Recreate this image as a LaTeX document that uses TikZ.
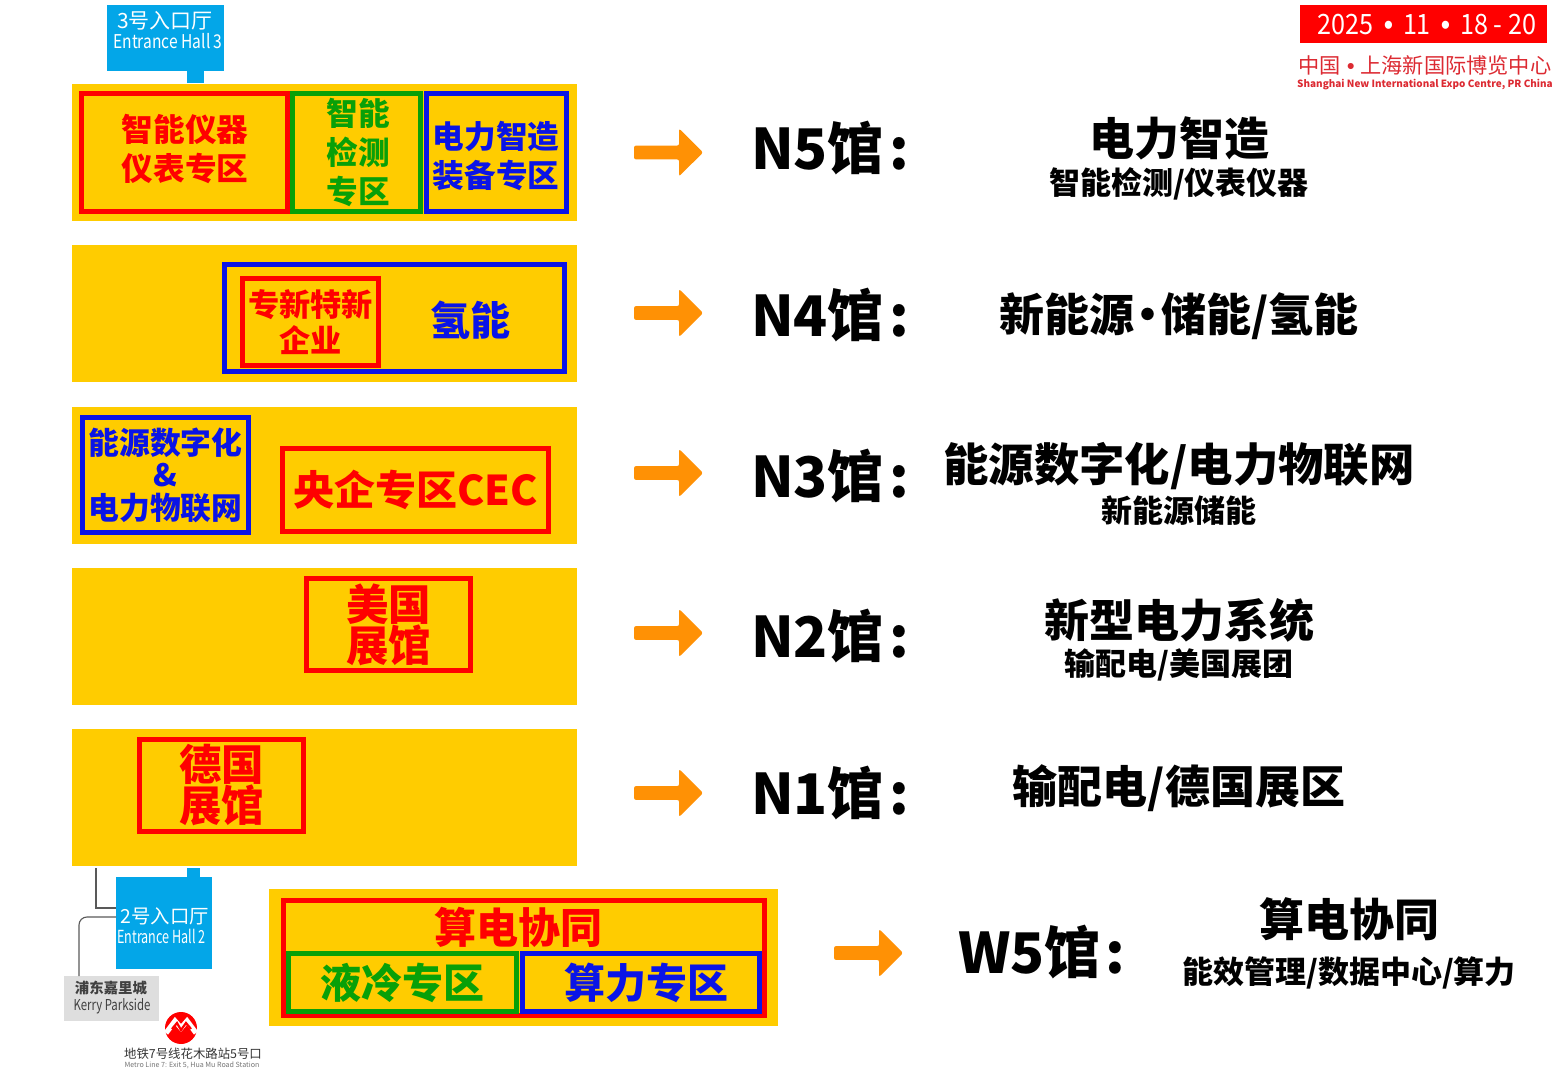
\documentclass[tikz,border=0pt]{standalone}
\usepackage{fontspec}
\usepackage{graphicx}
\setmainfont{Noto Sans CJK SC}
\newfontfamily\arialfont{Liberation Sans}
\usetikzlibrary{shapes.arrows}
\definecolor{hallyellow}{HTML}{FFCC00}
\definecolor{zonegreen}{HTML}{08A008}
\definecolor{zoneblue}{HTML}{0A14E6}
\definecolor{hallorange}{HTML}{FF9105}
\definecolor{entryblue}{HTML}{03A6E8}
\definecolor{expored}{HTML}{DC2A32}
\newcommand{\fs}[2]{\fontsize{#1}{#2}\selectfont\bfseries}
\newcommand{\fn}[2]{\fontsize{#1}{#2}\selectfont}

\begin{document}
\begin{tikzpicture}[x=0.5pt,y=-0.5pt,every node/.style={inner sep=0pt, outer sep=0pt, align=center},
  hall/.style={fill=hallyellow, minimum width=252.5pt, minimum height=68.5pt},
  zone/.style={draw=#1, text=#1, line width=2.4pt},
  hallarrow/.style={single arrow, fill=hallorange, anchor=tail, minimum height=34.5pt, minimum width=23.5pt,
    single arrow head extend=8.5pt, single arrow head indent=0pt, rounded corners=1pt,
    execute at begin node=\rule{0pt}{6.5pt}},
  hallname/.style={anchor=west, font=\fs{28}{32}},
  mainline/.style={font=\fs{22.5}{26}},
  subline/.style={font=\fs{15.5}{20}},
  entry/.style={fill=entryblue, text=white},
  guide/.style={draw=black!65, line width=0.55pt}]
\useasboundingbox (0,0) rectangle (1560,1080);

\node[hall] (hallN5) at (324.5,152.5) {};
\node[hall] (hallN4) at (324.5,313.5) {};
\node[hall] (hallN3) at (324.5,475.5) {};
\node[hall] (hallN2) at (324.5,636.5) {};
\node[hall] (hallN1) at (324.5,797.5) {};
\node[hall, minimum width=254.5pt] (hallW5) at (523.5,957.5) {};

\node[zone=red, minimum width=103pt, minimum height=59pt] (instrBox) at (184.5,152.5) {};
\node[text=red, font=\fs{15.8}{19.5}] (instrText) at (185,149) {智能仪器\\仪表专区};
\node[zone=zonegreen, minimum width=64pt, minimum height=59pt] (detectBox) at (356.5,152.5) {};
\node[text=zonegreen, font=\fs{15.8}{19.3}] (detectText) at (358,152.5) {智能\\检测\\专区};
\node[zone=zoneblue, minimum width=70pt, minimum height=59pt] (powerBox) at (496.5,152.5) {};
\node[text=zoneblue, font=\fs{15.8}{19.5}] (powerText) at (496,156.5) {电力智造\\装备专区};

\node[zone=zoneblue, minimum width=170pt, minimum height=53.5pt] (hydroBox) at (394.5,318) {};
\node[zone=red, minimum width=68pt, minimum height=43.5pt, font=\fs{15.6}{17.8}] (smeBox) at (310.5,322) {专新特新\\企业};
\node[text=zoneblue, font=\fs{20}{24}] (hydroText) at (470,320) {氢能};

\node[zone=zoneblue, minimum width=83pt, minimum height=57.5pt, font=\fs{15.4}{16.2}] (digitBox) at (165.5,475) {能源数字化\\\&\\电力物联网};
\node[zone=red, minimum width=133pt, minimum height=41.5pt, font=\fs{20.5}{24}] (cecBox) at (415.5,490) {央企专区CEC};

\node[zone=red, minimum width=82pt, minimum height=46pt, font=\fs{21.2}{20.5}] (usaBox) at (388.5,624.5) {美国\\展馆};
\node[zone=red, minimum width=82pt, minimum height=46pt, font=\fs{21.2}{20.5}] (gerBox) at (221.5,785.5) {德国\\展馆};

\node[zone=red, minimum width=240.5pt, minimum height=57.5pt] (calcBox) at (524,958) {};
\node[text=red, font=\fs{21}{24}] (calcText) at (518,927) {算电协同};
\node[zone=zonegreen, minimum width=114pt, minimum height=29pt, font=\fs{20.5}{24}] (coolBox) at (402.5,982.5) {液冷专区};
\node[zone=zoneblue, minimum width=118.5pt, minimum height=29pt] (cpuBox) at (641,982.5) {};
\node[text=zoneblue, font=\fs{20.5}{24}] (cpuText) at (646,982.5) {算力专区};

\node[hallarrow] (arrowN5) at (634,152.5) {};
\node[hallarrow] (arrowN4) at (634,313) {};
\node[hallarrow] (arrowN3) at (634,473) {};
\node[hallarrow] (arrowN2) at (634,633) {};
\node[hallarrow] (arrowN1) at (634,793) {};
\node[hallarrow] (arrowW5) at (834,953) {};

\node[hallname] (nameN5) at (751,148) {N5馆\kern2.6pt:};
\node[hallname] (nameN4) at (751,315) {N4馆\kern2.6pt:};
\node[hallname] (nameN3) at (751,476) {N3馆\kern2.6pt:};
\node[hallname] (nameN2) at (751,636) {N2馆\kern2.6pt:};
\node[hallname] (nameN1) at (751,793) {N1馆\kern2.6pt:};
\node[hallname] (nameW5) at (958,952) {W5馆\kern2.6pt:};

\node[mainline] (mainN5) at (1179,138) {电力智造};
\node[subline] (subN5) at (1179,184) {智能检测/仪表仪器};
\node[mainline] (mainN4) at (1179,316) {新能源\kern-4.5pt·\kern-4.5pt储能/氢能};
\node[mainline, font=\fs{22.7}{26}] (mainN3) at (1179,466) {能源数字化/电力物联网};
\node[subline] (subN3) at (1179,511) {新能源储能};
\node[mainline] (mainN2) at (1179,620) {新型电力系统};
\node[subline] (subN2) at (1179,665) {输配电/美国展团};
\node[mainline] (mainN1) at (1179,788) {输配电/德国展区};
\node[mainline] (mainW5) at (1349,919) {算电协同};
\node[subline] (subW5) at (1349,973) {能效管理/数据中心/算力};

% entrances
\node[entry, minimum width=58.5pt, minimum height=33pt] (entry3) at (165.5,38) {};
\node[fill=entryblue, minimum width=8.5pt, minimum height=6pt] (stub3) at (195.5,77) {};
\node[text=white, font=\fn{10.5}{12}] (entry3Cn) at (165,21) {3号入口厅};
\node[text=white, font=\fn{9.5}{11}] (entry3En) at (168,41) {\scalebox{.82}[1]{Entrance Hall 3}};
\node[entry, minimum width=48pt, minimum height=46pt] (entry2) at (164,923) {};
\node[fill=entryblue, minimum width=6.5pt, minimum height=5pt] (stub2) at (193.5,873) {};
\node[text=white, font=\fn{9.7}{12}] (entry2Cn) at (165,916) {2号入口厅};
\node[text=white, font=\fn{9}{11}] (entry2En) at (161.5,936) {\scalebox{.70}[1]{Entrance Hall 2}};

\node[fill=black!13, minimum width=47.5pt, minimum height=22.5pt] (kerry) at (111.5,998.5) {};
\node[text=black!75, font=\fs{7.2}{9}] (kerryCn) at (111,988) {浦东嘉里城};
\node[text=black!75, font=\fn{7.5}{9}] (kerryEn) at (112,1006) {\scalebox{.76}[1]{Kerry Parkside}};

\coordinate (walkTop) at (96,868);
\coordinate (walkEnd) at (116,908);
\coordinate (kerryEnd) at (116,917);
\coordinate (kerryTop) at (79,976);
\draw[guide] (walkTop) |- (walkEnd);
\draw[guide, rounded corners=4pt] (kerryEnd) -| (kerryTop);

% metro logo
\node[circle, fill=red, minimum size=16pt] (metroLogo) at (181,1028) {};
\draw[white, line width=2.6pt] (166,1033) -- (175,1021) -- (181,1028) -- (187,1021) -- (196,1033);
\draw[red, line width=1.1pt] (172,1029) -- (177,1023) -- (181,1030) -- (186,1023) -- (191,1029);
\node[text=black!80, font=\fn{6.2}{8}] (metroCn) at (193,1054) {地铁7号线花木路站5号口};
\node[text=black!55, font=\fn{3.55}{5}] (metroEn) at (192,1065) {Metro Line 7: Exit 5, Hua Mu Road Station};

% date banner
\node[fill=red, minimum width=123.5pt, minimum height=19pt] (dateBox) at (1423.5,24) {};
\node[text=white, font=\fn{14}{15}] (dateText) at (1427,25) {\scalebox{.9}[1]{2025\kern2.5pt{} {\arialfont\bfseries •} \kern2.5pt11\kern2.5pt{} {\arialfont\bfseries •} \kern2.5pt18 - 20}};
\node[text=expored, font=\fn{10.6}{12}] (venueCn) at (1425,65) {中国\kern3pt{\arialfont\bfseries •}\kern3pt上海新国际博览中心};
\node[text=expored, font=\fs{4.98}{6}] (venueEn) at (1425,85) {Shanghai New International Expo Centre, PR China};
\end{tikzpicture}
\end{document}
